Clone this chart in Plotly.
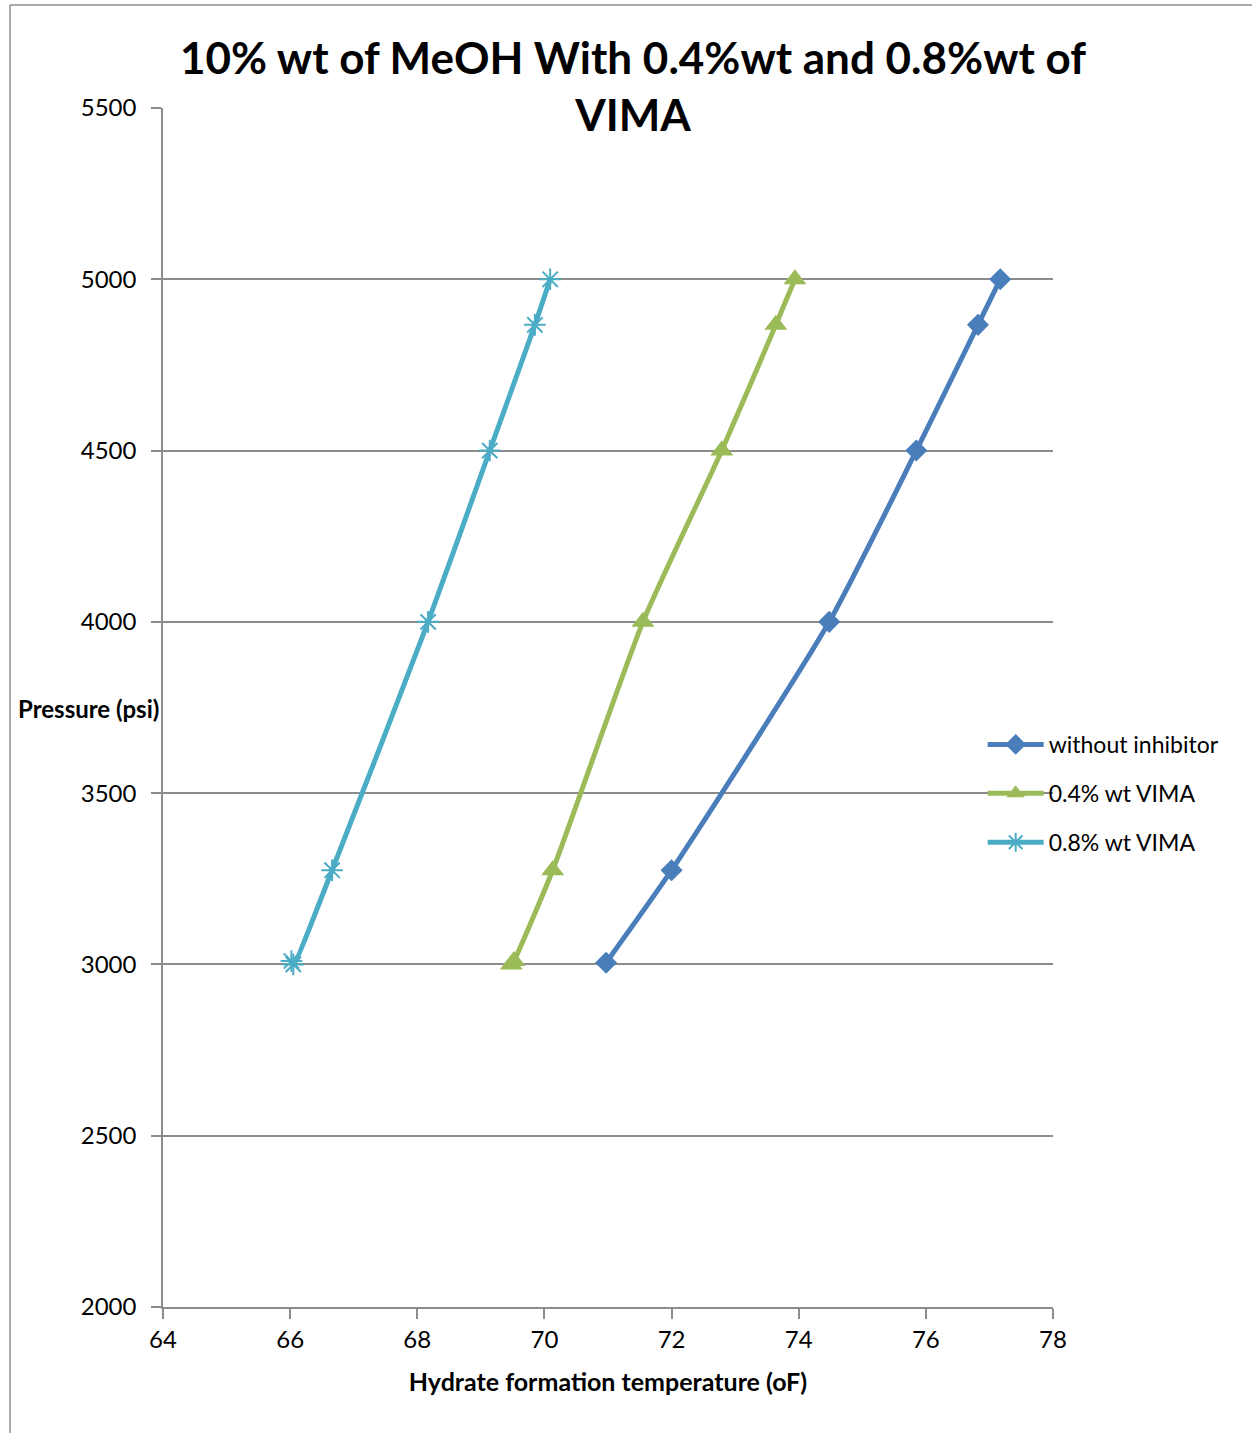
import plotly.graph_objects as go

# Hydrate formation temperature (oF) vs pressure (psi)
temp_no_inhibitor = [70.97, 72.0, 74.48, 75.85, 76.82, 77.17]
pres_no_inhibitor = [3005, 3275, 4000, 4500, 4867, 5000]

temp_vima_04 = [69.48, 69.52, 70.13, 71.55, 72.79, 73.64, 73.94]
pres_vima_04 = [3000, 3010, 3275, 4000, 4500, 4867, 5000]

temp_vima_08 = [66.02, 66.05, 66.66, 68.17, 69.14, 69.85, 70.09]
pres_vima_08 = [3010, 3000, 3275, 4000, 4500, 4867, 5000]

x_ticks = [64, 66, 68, 70, 72, 74, 76, 78]
y_ticks = [2000, 2500, 3000, 3500, 4000, 4500, 5000, 5500]

FONT = "Lato, Carlito, Calibri, sans-serif"
GRID = "#8c8c8c"

fig = go.Figure()

fig.add_trace(go.Scatter(
    x=temp_no_inhibitor, y=pres_no_inhibitor, name="without inhibitor", legendgroup="a",
    mode="lines+markers", line=dict(color="#4A7EBB", width=5, shape="spline", smoothing=0.6),
    marker=dict(symbol="diamond", size=17, color="#4A7EBB"),
))
fig.add_trace(go.Scatter(
    x=temp_vima_04, y=pres_vima_04, name="0.4% wt VIMA", legendgroup="b",
    mode="lines+markers", line=dict(color="#9BBB59", width=5, shape="spline", smoothing=0.6),
    marker=dict(symbol="triangle-up", size=20, color="#9BBB59"),
))
fig.add_trace(go.Scatter(
    x=temp_vima_08, y=pres_vima_08, name="0.8% wt VIMA", legendgroup="c",
    mode="lines+markers", line=dict(color="#4BACC6", width=5, shape="spline", smoothing=0.6),
    marker=dict(symbol="asterisk-open", size=18, color="#4BACC6", line=dict(width=2, color="#4BACC6")),
))

fig.update_layout(
    width=1252, height=1433,
    margin=dict(l=163, r=199, t=108, b=126),
    paper_bgcolor="white", plot_bgcolor="white",
    font=dict(family=FONT, size=23, color="black"),
    title=dict(
        text="<b>10% wt of MeOH With 0.4%wt and 0.8%wt of<br>VIMA</b>",
        x=(633 - 163) / 890, xanchor="center", xref="paper",
        y=1 - 74 / 1433, yanchor="middle", yref="container",
        font=dict(family=FONT, size=44, color="black"),
    ),
    legend=dict(
        x=0.921, xanchor="left", y=(1307 - 723) / 1199, yanchor="top",
        xref="paper", yref="paper",
        font=dict(family=FONT, size=23),
        itemwidth=56, tracegroupgap=16,
        bgcolor="rgba(0,0,0,0)",
    ),
    showlegend=True,
)

fig.update_xaxes(
    range=[64, 78], tickvals=x_ticks, ticktext=[str(v) for v in x_ticks],
    showgrid=False, zeroline=False,
    showline=True, linecolor=GRID, linewidth=1.5,
    ticks="outside", ticklen=10, tickcolor=GRID, tickwidth=1.5,
    tickfont=dict(family=FONT, size=24),
    title=dict(text="<b>Hydrate formation temperature (oF)</b>", font=dict(family=FONT, size=25), standoff=22),
)
fig.update_yaxes(
    range=[2000, 5500], tickvals=y_ticks, ticktext=[str(v) for v in y_ticks],
    showgrid=True, gridcolor=GRID, gridwidth=1.5, zeroline=False,
    showline=True, linecolor=GRID, linewidth=1.5,
    ticks="outside", ticklen=10, tickcolor=GRID, tickwidth=1.5,
    ticklabelstandoff=10,
    tickfont=dict(family=FONT, size=24),
)

# Y-axis label drawn horizontally to the left of the plot
fig.add_annotation(
    text="<b>Pressure (psi)</b>", xref="paper", yref="paper",
    x=(16 - 163) / 890, xanchor="left", y=(1307 - 708) / 1199, yanchor="middle",
    showarrow=False, font=dict(family=FONT, size=24, color="black"),
)

# Chart frame
fig.add_shape(type="line", xref="paper", yref="paper",
              x0=(10 - 163) / 890, x1=(10 - 163) / 890,
              y0=(1307 - 1433) / 1199, y1=(1307 - 5) / 1199,
              line=dict(color="#8c8c8c", width=1.5))
fig.add_shape(type="line", xref="paper", yref="paper",
              x0=(10 - 163) / 890, x1=(1252 - 163) / 890,
              y0=(1307 - 5) / 1199, y1=(1307 - 5) / 1199,
              line=dict(color="#8c8c8c", width=1.5))

fig.write_html("out.html")
